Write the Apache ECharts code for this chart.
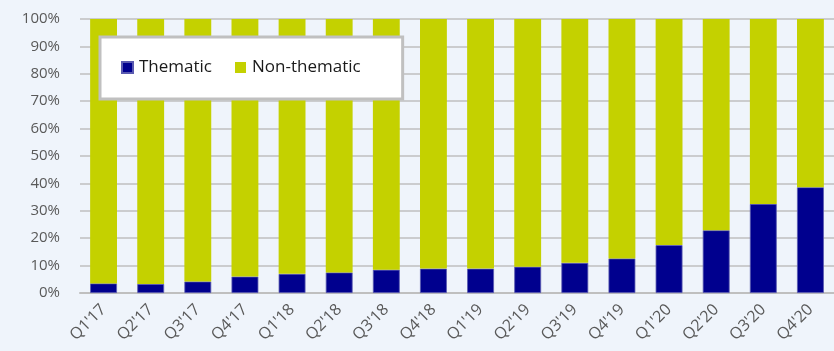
<!DOCTYPE html>
<html>
<head>
<meta charset="utf-8">
<script src="https://cdn.jsdelivr.net/npm/echarts@6/dist/echarts.min.js"></script>
<style>
html,body{margin:0;padding:0;background:#EFF4FB;}
#chart{width:834px;height:351px;}
</style>
</head>
<body>
<div id="chart"></div>
<script>
const categories = ["Q1'17","Q2'17","Q3'17","Q4'17","Q1'18","Q2'18","Q3'18","Q4'18","Q1'19","Q2'19","Q3'19","Q4'19","Q1'20","Q2'20","Q3'20","Q4'20"];
const thematic = [3.5, 3.3, 4.2, 6.0, 7.0, 7.5, 8.5, 8.9, 8.9, 9.6, 11.0, 12.6, 17.5, 22.9, 32.5, 38.6];
const nonThematic = [96.5, 96.7, 95.8, 94.0, 93.0, 92.5, 91.5, 91.1, 91.1, 90.4, 89.0, 87.4, 82.5, 77.1, 67.5, 61.4];
const yTicks = [0, 10, 20, 30, 40, 50, 60, 70, 80, 90, 100];

const chart = echarts.init(document.getElementById('chart'));
const font = "'Open Sans', 'Noto Sans', sans-serif";
chart.setOption({
  backgroundColor: '#EFF4FB',
  animation: false,
  grid: {left: 80, right: 0, top: 19, bottom: 58},
  legend: {
    left: 100, top: 37,
    orient: 'horizontal',
    backgroundColor: '#ffffff',
    borderColor: '#c0c0c0',
    borderWidth: 3,
    padding: [22, 42, 23, 21],
    itemWidth: 11, itemHeight: 11,
    itemGap: 23,
    icon: 'rect',
    textStyle: {fontFamily: font, fontSize: 17, color: '#1a1a1a', padding: [0,0,0,1]},
    data: ['Thematic', 'Non-thematic']
  },
  xAxis: {
    type: 'category',
    data: categories,
    axisTick: {show: false},
    axisLine: {lineStyle: {color: '#bfbfbf', width: 2}},
    axisLabel: {rotate: 45, margin: 14, color: '#595959', fontFamily: font, fontSize: 16, interval: 0}
  },
  yAxis: {
    type: 'value',
    min: yTicks[0], max: yTicks[yTicks.length-1], interval: 10,
    axisLine: {show: false},
    axisTick: {show: false},
    axisLabel: {margin: 20, color: '#595959', fontFamily: font, fontSize: 15, formatter: '{value}%'},
    splitLine: {lineStyle: {color: '#bfbfbf', width: 1.5}}
  },
  series: [
    {name: 'Thematic', type: 'bar', stack: 'total', data: thematic, barWidth: '57%',
     itemStyle: {color: '#00008E', borderColor: '#5a5ab0', borderWidth: 0.8}},
    {name: 'Non-thematic', type: 'bar', stack: 'total', data: nonThematic, barWidth: '57%',
     itemStyle: {color: '#C4D100'}}
  ]
});
</script>
</body>
</html>
